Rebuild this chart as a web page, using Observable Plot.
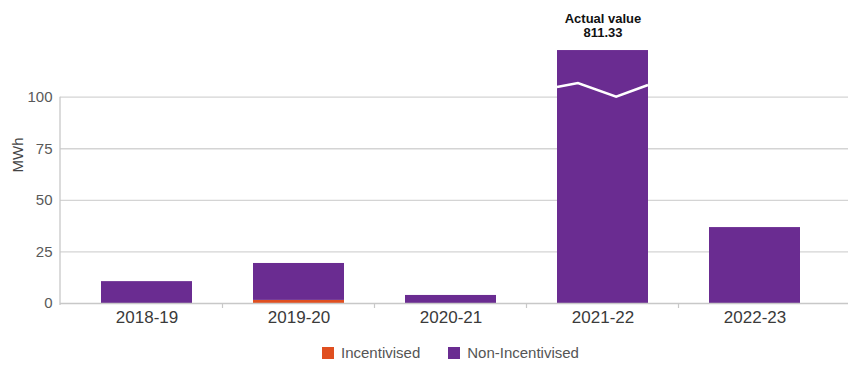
<!DOCTYPE html>
<html>
<head>
<meta charset="utf-8">
<script src="https://cdn.jsdelivr.net/npm/d3@7"></script>
<script src="https://cdn.jsdelivr.net/npm/@observablehq/plot@0.6"></script>
<style>
  body { margin: 0; background: #fff; font-family: "Liberation Sans", Arial, sans-serif; }
  #legend { display: flex; justify-content: center; gap: 28px; font-size: 15px; color: #555; height: 25px; align-items: center; padding-left: 48px; }
  #legend span.sw { display: inline-block; width: 12px; height: 12px; margin-right: 7px; vertical-align: -1px; }
</style>
</head>
<body>
<div id="chart"></div>
<div id="legend"></div>
<script>
const categories = ["2018-19", "2019-20", "2020-21", "2021-22", "2022-23"];
const incentivised = [0, 1.5, 0, 0, 0];
const nonIncentivised = [10.6, 17.9, 3.9, 811.33, 36.8];
const seriesNames = ["Incentivised", "Non-Incentivised"];
const seriesColors = ["#e04f20", "#6a2c91"];
const yTicks = [0, 25, 50, 75, 100];
const axisCap = 122.6; // broken-axis display cap
const breakPoints = [[0, 104.7], [0.23, 106.6], [0.65, 100.0], [1, 105.7]]; // fraction across bar, value
const annotation = { category: "2021-22", text: "Actual value\n811.33" };

const rows = [];
categories.forEach((c, i) => {
  const total = incentivised[i] + nonIncentivised[i];
  const shown = Math.min(total, axisCap);
  rows.push({ cat: c, series: seriesNames[0], y1: 0, y2: incentivised[i] });
  rows.push({ cat: c, series: seriesNames[1], y1: incentivised[i], y2: shown });
});

function decorations(index, scales, values, dimensions) {
  const g = d3.create("svg:g");
  const x = scales.x, y = scales.y;
  const step = x.step();
  const bw = x.bandwidth();
  // left axis line
  g.append("line").attr("x1", dimensions.marginLeft).attr("x2", dimensions.marginLeft)
    .attr("y1", y(yTicks[yTicks.length - 1])).attr("y2", y(0) + 2)
    .attr("stroke", "#c8c8c8").attr("stroke-width", 1.3);
  // category boundary ticks
  for (let i = 1; i < categories.length; i++) {
    const bx = x(categories[i]) - (step - bw) / 2;
    g.append("line").attr("x1", bx).attr("x2", bx).attr("y1", y(0)).attr("y2", y(0) + 5)
      .attr("stroke", "#c8c8c8").attr("stroke-width", 1.2);
  }
  // break zigzag
  const x0 = x(annotation.category);
  const pts = breakPoints.map(([f, v]) => [x0 + f * bw, y(v)]);
  g.append("path").attr("d", d3.line()(pts)).attr("fill", "none")
    .attr("stroke", "#fff").attr("stroke-width", 2.6);
  return g.node();
}

const plot = Plot.plot({
  width: 853,
  height: 340,
  marginLeft: 60,
  marginRight: 5,
  marginTop: 45,
  marginBottom: 37,
  style: { fontFamily: "'Liberation Sans', Arial, sans-serif", background: "#fff" },
  x: { domain: categories, range: [70.5, 830.5], paddingInner: 0.4, paddingOuter: 0.2, label: null },
  y: { domain: [0, 125], range: [303, 45.1], label: null },
  color: { domain: seriesNames, range: seriesColors },
  marks: [
    Plot.ruleY(yTicks.filter(t => t > 0), { stroke: "#d4d4d4", strokeWidth: 1.3 }),
    Plot.barY(rows, { x: "cat", y1: "y1", y2: "y2", fill: "series" }),
    Plot.ruleY([0], { stroke: "#c8c8c8", strokeWidth: 1.3 }),
    Plot.axisY({ ticks: yTicks, tickSize: 0, tickPadding: 8, fontSize: 15, color: "#595959", label: null }),
    Plot.axisX({ tickSize: 0, tickPadding: 7, fontSize: 17, color: "#3a3a3a", label: null }),
    Plot.text(["MWh"], { frameAnchor: "left", dx: -42, dy: -2, rotate: -90, fontSize: 15, fill: "#444", text: d => d }),
    Plot.text([annotation], { x: "category", y: () => axisCap, text: "text", lineAnchor: "bottom", dy: -14, fontSize: 13, fontWeight: "bold", fill: "#111", lineHeight: 1.08 }),
    decorations
  ]
});
document.getElementById("chart").appendChild(plot);

const legend = document.getElementById("legend");
seriesNames.forEach((n, i) => {
  const item = document.createElement("div");
  item.innerHTML = `<span class="sw" style="background:${seriesColors[i]}"></span>${n}`;
  legend.appendChild(item);
});
</script>
</body>
</html>
